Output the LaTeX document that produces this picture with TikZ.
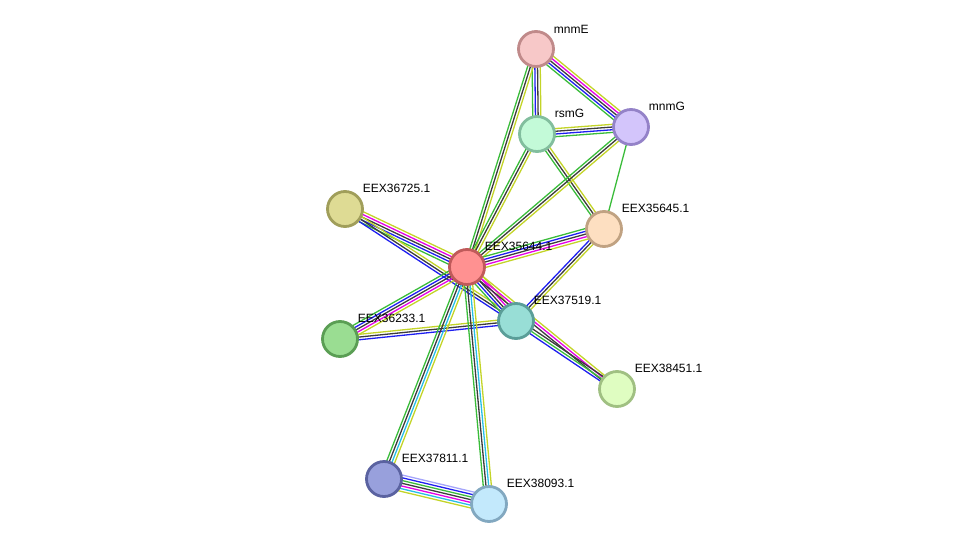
\documentclass[tikz,border=0pt]{standalone}
\usepackage{fontspec}
\setmainfont{Liberation Sans}
\usetikzlibrary{calc,backgrounds}

% evidence colours
\definecolor{evgreen}{RGB}{58,188,58}
\definecolor{evblue}{RGB}{30,30,240}
\definecolor{evblack}{RGB}{60,60,60}
\definecolor{evmag}{RGB}{230,0,230}
\definecolor{evyel}{RGB}{195,212,40}
\definecolor{evcyan}{RGB}{40,190,230}
\definecolor{evlav}{RGB}{165,165,250}

% protein colours (fill / rim)
\definecolor{fE}{HTML}{F7C8C8}\definecolor{rE}{HTML}{C08A8A}
\definecolor{fG}{HTML}{D3C5FB}\definecolor{rG}{HTML}{9482C8}
\definecolor{fR}{HTML}{C3FAD8}\definecolor{rR}{HTML}{82BE9E}
\definecolor{fA}{HTML}{DEDB94}\definecolor{rA}{HTML}{A09E5A}
\definecolor{fB}{HTML}{FDDFC1}\definecolor{rB}{HTML}{C0A282}
\definecolor{fC}{HTML}{FF9191}\definecolor{rC}{HTML}{C05A5A}
\definecolor{fD}{HTML}{98DED6}\definecolor{rD}{HTML}{5A9E98}
\definecolor{fF}{HTML}{9ADD92}\definecolor{rF}{HTML}{5A9E54}
\definecolor{fH}{HTML}{DFFDC1}\definecolor{rH}{HTML}{A0C082}
\definecolor{fI}{HTML}{98A0DC}\definecolor{rI}{HTML}{5A62A0}
\definecolor{fJ}{HTML}{C3E9FC}\definecolor{rJ}{HTML}{82A8C0}

% bundle of parallel evidence lines between two proteins
\newcommand{\evlink}[3]{%
  \foreach \lc [count=\i] in {#3} {\xdef\nlines{\i}}%
  \foreach \lc [count=\i] in {#3} {%
    \pgfmathsetmacro{\off}{(\i-(\nlines+1)/2)*2.7}%
    \draw[color=\lc, line width=1.3pt] ($(#1.center)!\off pt!90:(#2.center)$)
      -- ($(#2.center)!\off pt!-90:(#1.center)$);}}

\tikzset{prot/.style 2 args={circle, fill=#1, draw=#2, line width=2.8pt,
    minimum size=35pt, inner sep=0pt},
  lbl/.style={font=\fontsize{12}{14}\selectfont, xshift=1pt, yshift=-1pt}}

\begin{document}
\begin{tikzpicture}[x=1pt, y=-1pt]
  \useasboundingbox (0,0) rectangle (975,549);
  \node[prot={fE}{rE}, label={[lbl]above right:mnmE}] (mnmE) at (536,49) {};
  \node[prot={fG}{rG}, label={[lbl]above right:mnmG}] (mnmG) at (631,127) {};
  \node[prot={fR}{rR}, label={[lbl]above right:rsmG}] (rsmG) at (537,134) {};
  \node[prot={fA}{rA}, label={[lbl]above right:EEX36725.1}] (e36725) at (345,209) {};
  \node[prot={fB}{rB}, label={[lbl]above right:EEX35645.1}] (e35645) at (604,229) {};
  \node[prot={fC}{rC}, label={[lbl]above right:EEX35644.1}] (e35644) at (467,267) {};
  \node[prot={fD}{rD}, label={[lbl]above right:EEX37519.1}] (e37519) at (516,321) {};
  \node[prot={fF}{rF}, label={[lbl]above right:EEX36233.1}] (e36233) at (340,339) {};
  \node[prot={fH}{rH}, label={[lbl]above right:EEX38451.1}] (e38451) at (617,389) {};
  \node[prot={fI}{rI}, label={[lbl]above right:EEX37811.1}] (e37811) at (384,479) {};
  \node[prot={fJ}{rJ}, label={[lbl]above right:EEX38093.1}] (e38093) at (489,504) {};

  \begin{pgfonlayer}{background}
    \evlink{mnmE}{mnmG}{evgreen,evblue,evblack,evmag,evyel}
    \evlink{mnmE}{rsmG}{evgreen,evblue,evblack,evyel}
    \evlink{mnmE}{e35644}{evgreen,evblack,evyel}
    \evlink{rsmG}{mnmG}{evgreen,evblue,evblack,evyel}
    \evlink{rsmG}{e35644}{evgreen,evblack,evyel}
    \evlink{rsmG}{e35645}{evgreen,evblack,evyel}
    \evlink{mnmG}{e35644}{evgreen,evblack,evyel}
    \evlink{mnmG}{e35645}{evgreen}
    \evlink{e35645}{e35644}{evgreen,evblue,evblack,evmag,evyel}
    \evlink{e35645}{e37519}{evblue,evblack,evyel}
    \evlink{e36725}{e35644}{evgreen,evblue,evblack,evmag,evyel}
    \evlink{e36725}{e37519}{evblue,evblack,evyel}
    \evlink{e35644}{e37519}{evgreen,evblue,evblack,evmag,evyel}
    \evlink{e35644}{e36233}{evgreen,evblue,evblack,evmag,evyel}
    \evlink{e36233}{e37519}{evblue,evblack,evyel}
    \evlink{e35644}{e38451}{evblack,evmag,evyel}
    \evlink{e37519}{e38451}{evblue,evgreen,evblack}
    \evlink{e35644}{e37811}{evgreen,evblack,evcyan,evyel}
    \evlink{e35644}{e38093}{evgreen,evblack,evcyan,evyel}
    \evlink{e37811}{e38093}{evyel,evcyan,evmag,evblack,evgreen,evblue,evlav}
  \end{pgfonlayer}
\end{tikzpicture}
\end{document}
